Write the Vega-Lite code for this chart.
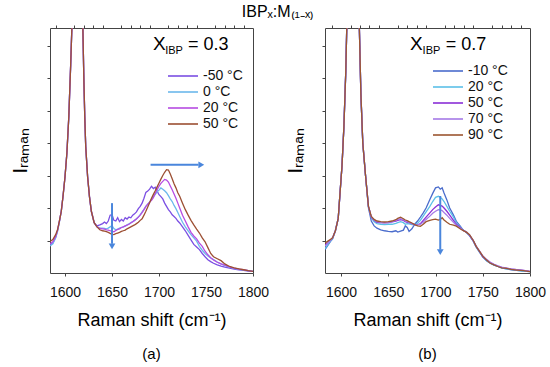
{
  "$schema": "https://vega.github.io/schema/vega-lite/v6.json",
  "padding": {"left": 10, "top": 4, "right": 0, "bottom": 2},
  "background": "white",
  "title": {"text": "IBPₓ:M₍₁₋ₓ₎", "fontSize": 16, "fontWeight": "normal", "font": "Liberation Sans", "color": "#000", "anchor": "middle", "offset": 4},
  "config": {
    "font": "Liberation Sans",
    "view": {"stroke": "#444", "strokeWidth": 1},
    "axis": {"grid": false, "domain": false, "tickColor": "#444", "tickSize": 3, "labelColor": "#111", "titleColor": "#000", "titleFontWeight": "normal", "labelFont": "Liberation Sans", "titleFont": "Liberation Sans"},
    "legend": {"orient": "none", "title": null, "labelFontSize": 14, "labelFont": "Liberation Sans", "labelColor": "#111", "symbolType": "M-3,0H3", "symbolSize": 100, "symbolStrokeWidth": 1.6, "rowPadding": 2, "padding": 0, "labelOffset": 13},
    "title": {"fontWeight": "normal"}
  },
  "spacing": 15,
  "resolve": {"scale": {"color": "independent", "x": "independent", "y": "independent"}, "legend": {"color": "independent"}},
  "hconcat": [
    {
      "width": 203,
      "height": 245,
      "title": {"text": "(a)", "orient": "bottom", "fontSize": 15, "fontWeight": "normal", "color": "#000", "offset": 18},
      "resolve": {"axis": {"x": "independent"}},
      "layer": [
        {
          "data": {"values": [
            {"x":1584,"-50 °C":0.86,"0 °C":0.83,"20 °C":0.9,"50 °C":0.97},
            {"x":1587,"-50 °C":0.92,"0 °C":0.9,"20 °C":0.96,"50 °C":1.03},
            {"x":1590,"-50 °C":1.1,"0 °C":1.08,"20 °C":1.12,"50 °C":1.18},
            {"x":1592,"-50 °C":1.3,"0 °C":1.28,"20 °C":1.31,"50 °C":1.33},
            {"x":1594,"-50 °C":1.58,"0 °C":1.57,"20 °C":1.6,"50 °C":1.6},
            {"x":1596,"-50 °C":1.9,"0 °C":1.9,"20 °C":1.9,"50 °C":1.9},
            {"x":1598,"-50 °C":2.4,"0 °C":2.4,"20 °C":2.4,"50 °C":2.4},
            {"x":1600,"-50 °C":2.97,"0 °C":2.97,"20 °C":2.97,"50 °C":2.97},
            {"x":1602,"-50 °C":3.7,"0 °C":3.7,"20 °C":3.7,"50 °C":3.7},
            {"x":1604,"-50 °C":4.8,"0 °C":4.8,"20 °C":4.8,"50 °C":4.8},
            {"x":1606,"-50 °C":6.4,"0 °C":6.4,"20 °C":6.4,"50 °C":6.4},
            {"x":1608,"-50 °C":8.2,"0 °C":8.2,"20 °C":8.2,"50 °C":8.2},
            {"x":1610,"-50 °C":11.5,"0 °C":11.5,"20 °C":11.5,"50 °C":11.5},
            {"x":1612,"-50 °C":15,"0 °C":15,"20 °C":15,"50 °C":15},
            {"x":1613,"-50 °C":15.8,"0 °C":15.8,"20 °C":15.8,"50 °C":15.8},
            {"x":1614,"-50 °C":15.2,"0 °C":15.2,"20 °C":15.2,"50 °C":15.2},
            {"x":1616,"-50 °C":12,"0 °C":12,"20 °C":12,"50 °C":12},
            {"x":1618,"-50 °C":8.8,"0 °C":8.8,"20 °C":8.8,"50 °C":8.8},
            {"x":1619,"-50 °C":7.5,"0 °C":7.5,"20 °C":7.5,"50 °C":7.5},
            {"x":1620,"-50 °C":6,"0 °C":6,"20 °C":6,"50 °C":6},
            {"x":1621,"-50 °C":4.8,"0 °C":4.8,"20 °C":4.8,"50 °C":4.8},
            {"x":1622,"-50 °C":3.9,"0 °C":3.9,"20 °C":3.9,"50 °C":3.9},
            {"x":1624,"-50 °C":2.97,"0 °C":2.97,"20 °C":2.97,"50 °C":2.97},
            {"x":1626,"-50 °C":2.35,"0 °C":2.35,"20 °C":2.35,"50 °C":2.35},
            {"x":1628,"-50 °C":1.9,"0 °C":1.9,"20 °C":1.9,"50 °C":1.9},
            {"x":1631,"-50 °C":1.55,"0 °C":1.55,"20 °C":1.55,"50 °C":1.55},
            {"x":1634,"-50 °C":1.45,"0 °C":1.42,"20 °C":1.42,"50 °C":1.42},
            {"x":1637,"-50 °C":1.48,"0 °C":1.38,"20 °C":1.37,"50 °C":1.33},
            {"x":1640,"-50 °C":1.52,"0 °C":1.38,"20 °C":1.36,"50 °C":1.3},
            {"x":1642,"-50 °C":1.57,"0 °C":1.37,"20 °C":1.35,"50 °C":1.29},
            {"x":1644,"-50 °C":1.52,"0 °C":1.36,"20 °C":1.33,"50 °C":1.27},
            {"x":1646,"-50 °C":1.6,"0 °C":1.38,"20 °C":1.32,"50 °C":1.25},
            {"x":1648,"-50 °C":1.78,"0 °C":1.42,"20 °C":1.3,"50 °C":1.22},
            {"x":1650,"-50 °C":1.8,"0 °C":1.46,"20 °C":1.28,"50 °C":1.19},
            {"x":1652,"-50 °C":1.62,"0 °C":1.37,"20 °C":1.27,"50 °C":1.18},
            {"x":1654,"-50 °C":1.6,"0 °C":1.33,"20 °C":1.31,"50 °C":1.21},
            {"x":1656,"-50 °C":1.7,"0 °C":1.35,"20 °C":1.34,"50 °C":1.23},
            {"x":1658,"-50 °C":1.58,"0 °C":1.38,"20 °C":1.36,"50 °C":1.25},
            {"x":1660,"-50 °C":1.65,"0 °C":1.4,"20 °C":1.4,"50 °C":1.28},
            {"x":1662,"-50 °C":1.6,"0 °C":1.42,"20 °C":1.42,"50 °C":1.3},
            {"x":1664,"-50 °C":1.7,"0 °C":1.44,"20 °C":1.45,"50 °C":1.32},
            {"x":1666,"-50 °C":1.66,"0 °C":1.48,"20 °C":1.47,"50 °C":1.36},
            {"x":1668,"-50 °C":1.72,"0 °C":1.51,"20 °C":1.5,"50 °C":1.39},
            {"x":1670,"-50 °C":1.7,"0 °C":1.55,"20 °C":1.54,"50 °C":1.42},
            {"x":1672,"-50 °C":1.78,"0 °C":1.58,"20 °C":1.58,"50 °C":1.45},
            {"x":1674,"-50 °C":1.82,"0 °C":1.62,"20 °C":1.62,"50 °C":1.48},
            {"x":1676,"-50 °C":1.88,"0 °C":1.67,"20 °C":1.66,"50 °C":1.52},
            {"x":1678,"-50 °C":1.98,"0 °C":1.72,"20 °C":1.72,"50 °C":1.56},
            {"x":1680,"-50 °C":2.05,"0 °C":1.8,"20 °C":1.78,"50 °C":1.62},
            {"x":1682,"-50 °C":2.15,"0 °C":1.88,"20 °C":1.86,"50 °C":1.67},
            {"x":1684,"-50 °C":2.3,"0 °C":1.96,"20 °C":1.95,"50 °C":1.78},
            {"x":1686,"-50 °C":2.48,"0 °C":2.05,"20 °C":2.05,"50 °C":1.9},
            {"x":1688,"-50 °C":2.52,"0 °C":2.12,"20 °C":2.12,"50 °C":2.03},
            {"x":1690,"-50 °C":2.58,"0 °C":2.18,"20 °C":2.18,"50 °C":2.16},
            {"x":1692,"-50 °C":2.67,"0 °C":2.27,"20 °C":2.24,"50 °C":2.3},
            {"x":1694,"-50 °C":2.6,"0 °C":2.35,"20 °C":2.32,"50 °C":2.42},
            {"x":1696,"-50 °C":2.64,"0 °C":2.42,"20 °C":2.45,"50 °C":2.53},
            {"x":1698,"-50 °C":2.52,"0 °C":2.5,"20 °C":2.56,"50 °C":2.65},
            {"x":1700,"-50 °C":2.41,"0 °C":2.55,"20 °C":2.67,"50 °C":2.77},
            {"x":1702,"-50 °C":2.35,"0 °C":2.62,"20 °C":2.76,"50 °C":2.89},
            {"x":1704,"-50 °C":2.28,"0 °C":2.58,"20 °C":2.82,"50 °C":3.0},
            {"x":1706,"-50 °C":2.15,"0 °C":2.53,"20 °C":2.88,"50 °C":3.1},
            {"x":1708,"-50 °C":2.05,"0 °C":2.47,"20 °C":2.86,"50 °C":3.18},
            {"x":1710,"-50 °C":1.95,"0 °C":2.38,"20 °C":2.8,"50 °C":3.17},
            {"x":1712,"-50 °C":1.88,"0 °C":2.28,"20 °C":2.68,"50 °C":3.05},
            {"x":1714,"-50 °C":1.79,"0 °C":2.2,"20 °C":2.56,"50 °C":2.9},
            {"x":1716,"-50 °C":1.74,"0 °C":2.08,"20 °C":2.43,"50 °C":2.75},
            {"x":1718,"-50 °C":1.68,"0 °C":1.98,"20 °C":2.3,"50 °C":2.62},
            {"x":1720,"-50 °C":1.6,"0 °C":1.86,"20 °C":2.15,"50 °C":2.47},
            {"x":1722,"-50 °C":1.54,"0 °C":1.74,"20 °C":2.0,"50 °C":2.36},
            {"x":1725,"-50 °C":1.42,"0 °C":1.56,"20 °C":1.78,"50 °C":2.15},
            {"x":1728,"-50 °C":1.3,"0 °C":1.42,"20 °C":1.6,"50 °C":1.95},
            {"x":1731,"-50 °C":1.16,"0 °C":1.3,"20 °C":1.42,"50 °C":1.78},
            {"x":1734,"-50 °C":1.02,"0 °C":1.18,"20 °C":1.25,"50 °C":1.62},
            {"x":1737,"-50 °C":0.88,"0 °C":1.08,"20 °C":1.14,"50 °C":1.48},
            {"x":1740,"-50 °C":0.8,"0 °C":0.98,"20 °C":1.05,"50 °C":1.35},
            {"x":1743,"-50 °C":0.72,"0 °C":0.82,"20 °C":0.92,"50 °C":1.23},
            {"x":1746,"-50 °C":0.6,"0 °C":0.7,"20 °C":0.82,"50 °C":1.08},
            {"x":1749,"-50 °C":0.5,"0 °C":0.6,"20 °C":0.67,"50 °C":0.96},
            {"x":1752,"-50 °C":0.41,"0 °C":0.52,"20 °C":0.56,"50 °C":0.78},
            {"x":1755,"-50 °C":0.35,"0 °C":0.46,"20 °C":0.47,"50 °C":0.6},
            {"x":1758,"-50 °C":0.3,"0 °C":0.41,"20 °C":0.4,"50 °C":0.5},
            {"x":1762,"-50 °C":0.25,"0 °C":0.34,"20 °C":0.33,"50 °C":0.44},
            {"x":1766,"-50 °C":0.21,"0 °C":0.28,"20 °C":0.28,"50 °C":0.38},
            {"x":1770,"-50 °C":0.18,"0 °C":0.23,"20 °C":0.24,"50 °C":0.28},
            {"x":1775,"-50 °C":0.15,"0 °C":0.18,"20 °C":0.19,"50 °C":0.2},
            {"x":1780,"-50 °C":0.12,"0 °C":0.14,"20 °C":0.15,"50 °C":0.16},
            {"x":1785,"-50 °C":0.1,"0 °C":0.11,"20 °C":0.12,"50 °C":0.13},
            {"x":1790,"-50 °C":0.08,"0 °C":0.09,"20 °C":0.1,"50 °C":0.1},
            {"x":1795,"-50 °C":0.06,"0 °C":0.07,"20 °C":0.07,"50 °C":0.07},
            {"x":1800,"-50 °C":0.05,"0 °C":0.05,"20 °C":0.05,"50 °C":0.05}
          ]},
          "transform": [{"fold": ["-50 °C", "0 °C", "20 °C", "50 °C"], "as": ["T", "I"]}],
          "mark": {"type": "line", "clip": true, "strokeWidth": 1.3},
          "encoding": {
            "x": {"field": "x", "type": "quantitative", "scale": {"domain": [1584, 1800], "nice": false, "zero": false},
                  "axis": {"values": [1600, 1650, 1700, 1750, 1800], "labelFontSize": 14, "labelPadding": 9, "labelFlush": false, "title": "Raman shift (cm⁻¹)", "titleFontSize": 18, "titlePadding": 12, "format": "d"}},
            "y": {"field": "I", "type": "quantitative", "scale": {"domain": [0, 7.54], "nice": false},
                  "axis": {"values": [1,2,3,4,5,6,7], "labels": false, "title": "Iᵣₐₘₐₙ", "titleFontSize": 20, "titlePadding": 16}},
            "color": {"field": "T", "type": "nominal",
                      "scale": {"domain": ["-50 °C", "0 °C", "20 °C", "50 °C"], "range": ["#7b4fe3", "#6cb8ec", "#b64ce2", "#9c4f33"]},
                      "legend": {"legendX": 126, "legendY": 41}}
          }
        },
        {
          "data": {"values": [{"x": 1650, "y1": 2.15, "y2": 0.9}]},
          "mark": {"type": "rule", "color": "#4a86dc", "strokeWidth": 2},
          "encoding": {"x": {"field": "x", "type": "quantitative", "axis": {"values": [1590,1610,1620,1630,1640,1660,1670,1680,1690,1710,1720,1730,1740,1760,1770,1780,1790], "labels": false, "title": null}}, "y": {"field": "y1", "type": "quantitative"}, "y2": {"field": "y2"}}
        },
        {
          "data": {"values": [{"x": 1650, "y": 0.82}]},
          "mark": {"type": "point", "shape": "triangle-down", "filled": true, "color": "#4a86dc", "opacity": 1, "size": 45},
          "encoding": {"x": {"field": "x", "type": "quantitative", "axis": null}, "y": {"field": "y", "type": "quantitative"}}
        },
        {
          "data": {"values": [{"x1": 1691, "x2": 1742, "y": 3.33}]},
          "mark": {"type": "rule", "color": "#4a86dc", "strokeWidth": 2},
          "encoding": {"x": {"field": "x1", "type": "quantitative", "axis": null}, "x2": {"field": "x2"}, "y": {"field": "y", "type": "quantitative"}}
        },
        {
          "data": {"values": [{"x": 1745, "y": 3.33}]},
          "mark": {"type": "point", "shape": "triangle-right", "filled": true, "color": "#4a86dc", "opacity": 1, "size": 45},
          "encoding": {"x": {"field": "x", "type": "quantitative", "axis": null}, "y": {"field": "y", "type": "quantitative"}}
        },
        {
          "data": {"values": [{"x": 1693.5, "y": 6.87, "t": "X"}]},
          "mark": {"type": "text", "align": "left", "baseline": "alphabetic", "fontSize": 19, "color": "#000"},
          "encoding": {"x": {"field": "x", "type": "quantitative", "axis": null}, "y": {"field": "y", "type": "quantitative"}, "text": {"field": "t"}}
        },
        {
          "data": {"values": [{"x": 1706.6, "y": 6.74, "t": "IBP"}]},
          "mark": {"type": "text", "align": "left", "baseline": "alphabetic", "fontSize": 11, "color": "#000"},
          "encoding": {"x": {"field": "x", "type": "quantitative", "axis": null}, "y": {"field": "y", "type": "quantitative"}, "text": {"field": "t"}}
        },
        {
          "data": {"values": [{"x": 1730.8, "y": 6.87, "t": "= 0.3"}]},
          "mark": {"type": "text", "align": "left", "baseline": "alphabetic", "fontSize": 18, "color": "#000"},
          "encoding": {"x": {"field": "x", "type": "quantitative", "axis": null}, "y": {"field": "y", "type": "quantitative"}, "text": {"field": "t"}}
        }
      ]
    },
    {
      "width": 205,
      "height": 245,
      "title": {"text": "(b)", "orient": "bottom", "fontSize": 15, "fontWeight": "normal", "color": "#000", "offset": 18},
      "resolve": {"axis": {"x": "independent"}},
      "layer": [
        {
          "data": {"values": [
            {"x":1583,"-10 °C":0.72,"20 °C":0.75,"50 °C":0.85,"70 °C":0.82,"90 °C":0.92},
            {"x":1586,"-10 °C":0.85,"20 °C":0.87,"50 °C":0.93,"70 °C":0.92,"90 °C":0.98},
            {"x":1589,"-10 °C":0.98,"20 °C":0.99,"50 °C":1.02,"70 °C":1.01,"90 °C":1.04},
            {"x":1591,"-10 °C":1.05,"20 °C":1.06,"50 °C":1.08,"70 °C":1.08,"90 °C":1.08},
            {"x":1594,"-10 °C":1.3,"20 °C":1.3,"50 °C":1.3,"70 °C":1.3,"90 °C":1.3},
            {"x":1597,"-10 °C":1.68,"20 °C":1.68,"50 °C":1.68,"70 °C":1.68,"90 °C":1.68},
            {"x":1599,"-10 °C":2.5,"20 °C":2.5,"50 °C":2.5,"70 °C":2.5,"90 °C":2.5},
            {"x":1601,"-10 °C":3.3,"20 °C":3.3,"50 °C":3.3,"70 °C":3.3,"90 °C":3.3},
            {"x":1603,"-10 °C":4.5,"20 °C":4.5,"50 °C":4.5,"70 °C":4.5,"90 °C":4.5},
            {"x":1605,"-10 °C":6.2,"20 °C":6.2,"50 °C":6.2,"70 °C":6.2,"90 °C":6.2},
            {"x":1606,"-10 °C":7.5,"20 °C":7.5,"50 °C":7.5,"70 °C":7.5,"90 °C":7.5},
            {"x":1608,"-10 °C":10,"20 °C":10,"50 °C":10,"70 °C":10,"90 °C":10},
            {"x":1610,"-10 °C":13.5,"20 °C":13.5,"50 °C":13.5,"70 °C":13.5,"90 °C":13.5},
            {"x":1612,"-10 °C":15.8,"20 °C":15.8,"50 °C":15.8,"70 °C":15.8,"90 °C":15.8},
            {"x":1613,"-10 °C":16,"20 °C":16,"50 °C":16,"70 °C":16,"90 °C":16},
            {"x":1614,"-10 °C":15.5,"20 °C":15.5,"50 °C":15.5,"70 °C":15.5,"90 °C":15.5},
            {"x":1616,"-10 °C":13,"20 °C":13,"50 °C":13,"70 °C":13,"90 °C":13},
            {"x":1618,"-10 °C":9.5,"20 °C":9.5,"50 °C":9.5,"70 °C":9.5,"90 °C":9.5},
            {"x":1619,"-10 °C":8,"20 °C":8,"50 °C":8,"70 °C":8,"90 °C":8},
            {"x":1621,"-10 °C":5.5,"20 °C":5.5,"50 °C":5.5,"70 °C":5.5,"90 °C":5.5},
            {"x":1623,"-10 °C":4.0,"20 °C":4.0,"50 °C":4.0,"70 °C":4.0,"90 °C":4.0},
            {"x":1626,"-10 °C":2.97,"20 °C":2.97,"50 °C":2.97,"70 °C":2.97,"90 °C":2.97},
            {"x":1629,"-10 °C":2.0,"20 °C":2.05,"50 °C":2.05,"70 °C":2.05,"90 °C":2.05},
            {"x":1632,"-10 °C":1.6,"20 °C":1.7,"50 °C":1.72,"70 °C":1.73,"90 °C":1.74},
            {"x":1635,"-10 °C":1.45,"20 °C":1.58,"50 °C":1.62,"70 °C":1.63,"90 °C":1.65},
            {"x":1638,"-10 °C":1.38,"20 °C":1.52,"50 °C":1.56,"70 °C":1.58,"90 °C":1.6},
            {"x":1642,"-10 °C":1.33,"20 °C":1.5,"50 °C":1.55,"70 °C":1.56,"90 °C":1.58},
            {"x":1646,"-10 °C":1.3,"20 °C":1.49,"50 °C":1.54,"70 °C":1.55,"90 °C":1.57},
            {"x":1650,"-10 °C":1.28,"20 °C":1.5,"50 °C":1.55,"70 °C":1.56,"90 °C":1.58},
            {"x":1654,"-10 °C":1.27,"20 °C":1.5,"50 °C":1.57,"70 °C":1.58,"90 °C":1.6},
            {"x":1658,"-10 °C":1.3,"20 °C":1.53,"50 °C":1.6,"70 °C":1.62,"90 °C":1.64},
            {"x":1660,"-10 °C":1.26,"20 °C":1.55,"50 °C":1.62,"70 °C":1.65,"90 °C":1.68},
            {"x":1663,"-10 °C":1.29,"20 °C":1.58,"50 °C":1.64,"70 °C":1.67,"90 °C":1.72},
            {"x":1666,"-10 °C":1.32,"20 °C":1.55,"50 °C":1.62,"70 °C":1.64,"90 °C":1.67},
            {"x":1668,"-10 °C":1.45,"20 °C":1.5,"50 °C":1.58,"70 °C":1.6,"90 °C":1.63},
            {"x":1670,"-10 °C":1.4,"20 °C":1.52,"50 °C":1.56,"70 °C":1.58,"90 °C":1.61},
            {"x":1672,"-10 °C":1.28,"20 °C":1.51,"50 °C":1.55,"70 °C":1.56,"90 °C":1.58},
            {"x":1675,"-10 °C":1.36,"20 °C":1.49,"50 °C":1.52,"70 °C":1.53,"90 °C":1.54},
            {"x":1678,"-10 °C":1.5,"20 °C":1.48,"50 °C":1.48,"70 °C":1.49,"90 °C":1.49},
            {"x":1681,"-10 °C":1.6,"20 °C":1.53,"50 °C":1.48,"70 °C":1.48,"90 °C":1.45},
            {"x":1684,"-10 °C":1.72,"20 °C":1.62,"50 °C":1.52,"70 °C":1.5,"90 °C":1.44},
            {"x":1687,"-10 °C":1.85,"20 °C":1.75,"50 °C":1.62,"70 °C":1.56,"90 °C":1.5},
            {"x":1690,"-10 °C":2.0,"20 °C":1.88,"50 °C":1.72,"70 °C":1.65,"90 °C":1.58},
            {"x":1694,"-10 °C":2.26,"20 °C":2.05,"50 °C":1.85,"70 °C":1.75,"90 °C":1.62},
            {"x":1697,"-10 °C":2.45,"20 °C":2.2,"50 °C":1.95,"70 °C":1.84,"90 °C":1.64},
            {"x":1700,"-10 °C":2.62,"20 °C":2.33,"50 °C":2.03,"70 °C":1.9,"90 °C":1.66},
            {"x":1703,"-10 °C":2.65,"20 °C":2.36,"50 °C":2.1,"70 °C":1.95,"90 °C":1.63},
            {"x":1705,"-10 °C":2.58,"20 °C":2.33,"50 °C":2.08,"70 °C":1.94,"90 °C":1.65},
            {"x":1707,"-10 °C":2.62,"20 °C":2.28,"50 °C":2.06,"70 °C":1.92,"90 °C":1.7},
            {"x":1709,"-10 °C":2.46,"20 °C":2.2,"50 °C":2.0,"70 °C":1.86,"90 °C":1.63},
            {"x":1712,"-10 °C":2.25,"20 °C":2.05,"50 °C":1.9,"70 °C":1.78,"90 °C":1.56},
            {"x":1715,"-10 °C":2.0,"20 °C":1.9,"50 °C":1.78,"70 °C":1.68,"90 °C":1.5},
            {"x":1719,"-10 °C":1.78,"20 °C":1.72,"50 °C":1.62,"70 °C":1.56,"90 °C":1.47},
            {"x":1722,"-10 °C":1.59,"20 °C":1.54,"50 °C":1.5,"70 °C":1.47,"90 °C":1.44},
            {"x":1726,"-10 °C":1.45,"20 °C":1.42,"50 °C":1.4,"70 °C":1.38,"90 °C":1.36},
            {"x":1729,"-10 °C":1.33,"20 °C":1.33,"50 °C":1.32,"70 °C":1.32,"90 °C":1.31},
            {"x":1733,"-10 °C":1.24,"20 °C":1.24,"50 °C":1.25,"70 °C":1.25,"90 °C":1.25},
            {"x":1736,"-10 °C":1.15,"20 °C":1.15,"50 °C":1.16,"70 °C":1.17,"90 °C":1.18},
            {"x":1740,"-10 °C":0.98,"20 °C":0.98,"50 °C":0.99,"70 °C":1.0,"90 °C":1.0},
            {"x":1743,"-10 °C":0.8,"20 °C":0.8,"50 °C":0.82,"70 °C":0.83,"90 °C":0.82},
            {"x":1747,"-10 °C":0.63,"20 °C":0.62,"50 °C":0.64,"70 °C":0.66,"90 °C":0.65},
            {"x":1750,"-10 °C":0.5,"20 °C":0.5,"50 °C":0.5,"70 °C":0.53,"90 °C":0.52},
            {"x":1754,"-10 °C":0.38,"20 °C":0.38,"50 °C":0.4,"70 °C":0.42,"90 °C":0.4},
            {"x":1758,"-10 °C":0.3,"20 °C":0.3,"50 °C":0.32,"70 °C":0.33,"90 °C":0.3},
            {"x":1762,"-10 °C":0.24,"20 °C":0.24,"50 °C":0.26,"70 °C":0.27,"90 °C":0.25},
            {"x":1766,"-10 °C":0.2,"20 °C":0.2,"50 °C":0.21,"70 °C":0.22,"90 °C":0.2},
            {"x":1770,"-10 °C":0.16,"20 °C":0.16,"50 °C":0.17,"70 °C":0.18,"90 °C":0.16},
            {"x":1775,"-10 °C":0.13,"20 °C":0.13,"50 °C":0.15,"70 °C":0.15,"90 °C":0.14},
            {"x":1780,"-10 °C":0.1,"20 °C":0.11,"50 °C":0.12,"70 °C":0.13,"90 °C":0.11},
            {"x":1786,"-10 °C":0.08,"20 °C":0.08,"50 °C":0.1,"70 °C":0.1,"90 °C":0.09},
            {"x":1793,"-10 °C":0.06,"20 °C":0.06,"50 °C":0.08,"70 °C":0.08,"90 °C":0.07},
            {"x":1800,"-10 °C":0.04,"20 °C":0.04,"50 °C":0.05,"70 °C":0.05,"90 °C":0.04}
          ]},
          "transform": [{"fold": ["-10 °C", "20 °C", "50 °C", "70 °C", "90 °C"], "as": ["T", "I"]}],
          "mark": {"type": "line", "clip": true, "strokeWidth": 1.3},
          "encoding": {
            "x": {"field": "x", "type": "quantitative", "scale": {"domain": [1583, 1800], "nice": false, "zero": false},
                  "axis": {"values": [1600, 1650, 1700, 1750, 1800], "labelFontSize": 14, "labelPadding": 9, "labelFlush": false, "title": "Raman shift (cm⁻¹)", "titleFontSize": 18, "titlePadding": 12, "format": "d"}},
            "y": {"field": "I", "type": "quantitative", "scale": {"domain": [0, 7.54], "nice": false},
                  "axis": {"values": [1,2,3,4,5,6,7], "labels": false, "title": "Iᵣₐₘₐₙ", "titleFontSize": 20, "titlePadding": 16}},
            "color": {"field": "T", "type": "nominal",
                      "scale": {"domain": ["-10 °C", "20 °C", "50 °C", "70 °C", "90 °C"], "range": ["#4a6ccc", "#5cc0e8", "#8a2fd6", "#a67ae6", "#9c5630"]},
                      "legend": {"legendX": 116, "legendY": 36}}
          }
        },
        {
          "data": {"values": [{"x": 1705, "y1": 2.37, "y2": 0.72}]},
          "mark": {"type": "rule", "color": "#4a86dc", "strokeWidth": 2},
          "encoding": {"x": {"field": "x", "type": "quantitative", "axis": {"values": [1590,1610,1620,1630,1640,1660,1670,1680,1690,1710,1720,1730,1740,1760,1770,1780,1790], "labels": false, "title": null}}, "y": {"field": "y1", "type": "quantitative"}, "y2": {"field": "y2"}}
        },
        {
          "data": {"values": [{"x": 1705, "y": 0.64}]},
          "mark": {"type": "point", "shape": "triangle-down", "filled": true, "color": "#4a86dc", "opacity": 1, "size": 45},
          "encoding": {"x": {"field": "x", "type": "quantitative", "axis": null}, "y": {"field": "y", "type": "quantitative"}}
        },
        {
          "data": {"values": [{"x": 1673, "y": 6.87, "t": "X"}]},
          "mark": {"type": "text", "align": "left", "baseline": "alphabetic", "fontSize": 19, "color": "#000"},
          "encoding": {"x": {"field": "x", "type": "quantitative", "axis": null}, "y": {"field": "y", "type": "quantitative"}, "text": {"field": "t"}}
        },
        {
          "data": {"values": [{"x": 1686.3, "y": 6.74, "t": "IBP"}]},
          "mark": {"type": "text", "align": "left", "baseline": "alphabetic", "fontSize": 11, "color": "#000"},
          "encoding": {"x": {"field": "x", "type": "quantitative", "axis": null}, "y": {"field": "y", "type": "quantitative"}, "text": {"field": "t"}}
        },
        {
          "data": {"values": [{"x": 1710.7, "y": 6.87, "t": "= 0.7"}]},
          "mark": {"type": "text", "align": "left", "baseline": "alphabetic", "fontSize": 18, "color": "#000"},
          "encoding": {"x": {"field": "x", "type": "quantitative", "axis": null}, "y": {"field": "y", "type": "quantitative"}, "text": {"field": "t"}}
        }
      ]
    }
  ]
}
